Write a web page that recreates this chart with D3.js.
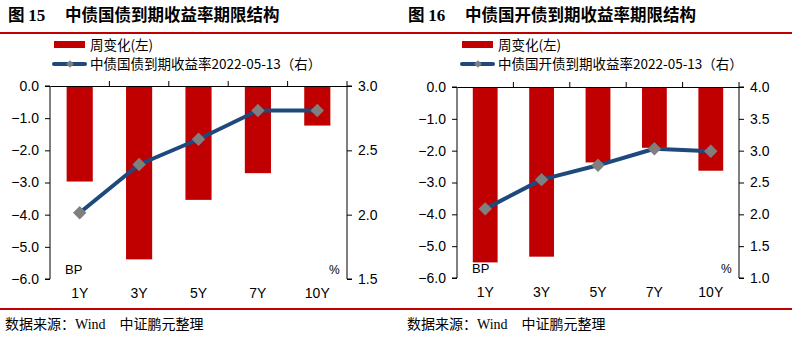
<!DOCTYPE html>
<html><head><meta charset="utf-8">
<script src="https://cdn.jsdelivr.net/npm/d3@7"></script>
<style>body{margin:0;background:#fff}svg{display:block}</style>
</head><body>
<script>
const categories = ["1Y","3Y","5Y","7Y","10Y"];
const govChange = [-2.97,-5.39,-3.54,-2.71,-1.23];
const govYield = [2.015,2.39,2.586,2.81,2.81];
const cdbChange = [-5.51,-5.33,-2.37,-1.91,-2.63];
const cdbYield = [2.086,2.545,2.77,3.03,2.99];
const leftTicks = [0,-1,-2,-3,-4,-5,-6];
const govRightTicks = [3.0,2.5,2.0,1.5];
const cdbRightTicks = [4.0,3.5,3.0,2.5,2.0,1.5,1.0];

const W=792,H=341;
const svg=d3.select("body").append("svg").attr("width",W).attr("height",H);
const numFont="'Liberation Sans', Arial, sans-serif";
const cjkFont="'Noto Sans CJK SC', sans-serif";
const fmt=d=>d3.format(".1f")(d).replace("-","−");

// red rules
svg.append("rect").attr("x",0).attr("y",32).attr("width",W).attr("height",2).attr("fill","#C00000");
svg.append("rect").attr("x",0).attr("y",308).attr("width",W).attr("height",2).attr("fill","#C00000");

function panel(o){
  const g=svg.append("g");
  // title
  const t=g.append("text").attr("x",o.tx).attr("y",21).attr("font-size",16.5).attr("font-weight","bold").attr("fill","#000");
  t.append("tspan").attr("font-family",cjkFont).text("图 ");
  t.append("tspan").attr("font-family","'Liberation Serif', 'Times New Roman', serif").attr("font-size",17).text(o.num);
  t.append("tspan").attr("x",o.tx+57).attr("font-family",cjkFont).text(o.title);
  // legend
  g.append("rect").attr("x",o.lx).attr("y",41).attr("width",31).attr("height",7).attr("fill","#C00000");
  g.append("text").attr("x",o.lx+36).attr("y",50).attr("font-family",cjkFont).attr("font-size",13.5).text("周变化(左)");
  g.append("line").attr("x1",o.lx).attr("x2",o.lx+31).attr("y1",64).attr("y2",64).attr("stroke","#1F497D").attr("stroke-width",4).attr("stroke-linecap","round");
  g.append("path").attr("d",d3.symbol(d3.symbolSquare,30)()).attr("transform",`translate(${o.lx+16},64) rotate(45)`).attr("fill","#7F7F7F");
  g.append("text").attr("x",o.lx+36).attr("y",69).attr("font-family",cjkFont).attr("font-size",13.5).text(o.legend2);

  const x=d3.scaleBand().domain(categories).range([o.x0,o.x1]).paddingInner(0.56).paddingOuter(0.28);
  const xb=d3.scaleBand().domain(categories).range([o.x0,o.x1]);
  const yL=d3.scaleLinear().domain([-6,0]).range([o.y1,o.y0]);
  const yR=d3.scaleLinear().domain(o.rdom).range([o.y1,o.y0]);

  // bars
  g.selectAll(".bar").data(o.change).join("rect")
    .attr("x",(d,i)=>x(categories[i])).attr("width",x.bandwidth())
    .attr("y",yL(0)).attr("height",d=>yL(d)-yL(0)).attr("fill","#C00000");

  // axes
  const ax=g.append("g").attr("transform",`translate(${o.x0},0)`)
    .call(d3.axisLeft(yL).tickValues(leftTicks).tickFormat(fmt).tickSize(5).tickPadding(6));
  const ar=g.append("g").attr("transform",`translate(${o.x1},0)`)
    .call(d3.axisRight(yR).tickValues(o.rticks).tickFormat(d3.format(".1f")).tickSize(5).tickPadding(6));
  const at=g.append("g").attr("transform",`translate(0,${o.y0})`)
    .call(d3.axisTop(xb).tickSize(0).tickFormat(""));
  // category boundary ticks
  g.selectAll(".ct").data(categories).join("line")
    .attr("x1",d=>xb(d)+xb.bandwidth()).attr("x2",d=>xb(d)+xb.bandwidth())
    .attr("y1",o.y0).attr("y2",o.y0-5).attr("stroke","#000");
  [ax,ar,at].forEach(a=>{a.select(".domain").attr("stroke","#000");a.selectAll("line").attr("stroke","#000");
    a.selectAll("text").attr("font-family",numFont).attr("font-size",14).attr("fill","#000");});
  ax.select(".domain").attr("d",`M-5,${o.y1}H0V${o.y0}H-5`);
  ar.select(".domain").attr("d",`M5,${o.y1}H0V${o.y0}H5`);

  // category labels
  g.selectAll(".cl").data(categories).join("text")
    .attr("x",d=>xb(d)+xb.bandwidth()/2).attr("y",o.y1+19).attr("text-anchor","middle")
    .attr("font-family",numFont).attr("font-size",14).text(d=>d);

  // line
  const line=d3.line().x((d,i)=>xb(categories[i])+xb.bandwidth()/2).y(d=>yR(d));
  g.append("path").datum(o.yld).attr("d",line).attr("fill","none").attr("stroke","#1F497D").attr("stroke-width",4).attr("stroke-linejoin","round");
  g.selectAll(".pt").data(o.yld).join("path").attr("d",d3.symbol(d3.symbolSquare,90)())
    .attr("transform",(d,i)=>`translate(${xb(categories[i])+xb.bandwidth()/2},${yR(d)}) rotate(45)`)
    .attr("fill","#7F7F7F");

  g.append("text").attr("x",o.x0+15).attr("y",o.y1-5).attr("font-family",numFont).attr("font-size",13).text("BP");
  g.append("text").attr("x",o.x1-18).attr("y",o.y1-5).attr("font-family",numFont).attr("font-size",12).text("%");

  // source
  const s=g.append("text").attr("x",o.sx).attr("y",329).attr("font-size",14);
  s.append("tspan").attr("font-family",cjkFont).text("数据来源：");
  s.append("tspan").attr("font-family","'Liberation Serif', serif").text("Wind");
  s.append("tspan").attr("font-family",cjkFont).attr("dx",14).text("中证鹏元整理");
}

panel({tx:8,num:"15",title:"中债国债到期收益率期限结构",lx:54,
  legend2:"中债国债到期收益率2022-05-13（右）",
  x0:50,x1:347,y0:86,y1:279,rdom:[1.5,3.0],rticks:govRightTicks,change:govChange,yld:govYield,sx:5});
panel({tx:408,num:"16",title:"中债国开债到期收益率期限结构",lx:462,
  legend2:"中债国开债到期收益率2022-05-13（右）",
  x0:457,x1:739,y0:87,y1:278,rdom:[1.0,4.0],rticks:cdbRightTicks,change:cdbChange,yld:cdbYield,sx:407});
</script>
</body></html>
